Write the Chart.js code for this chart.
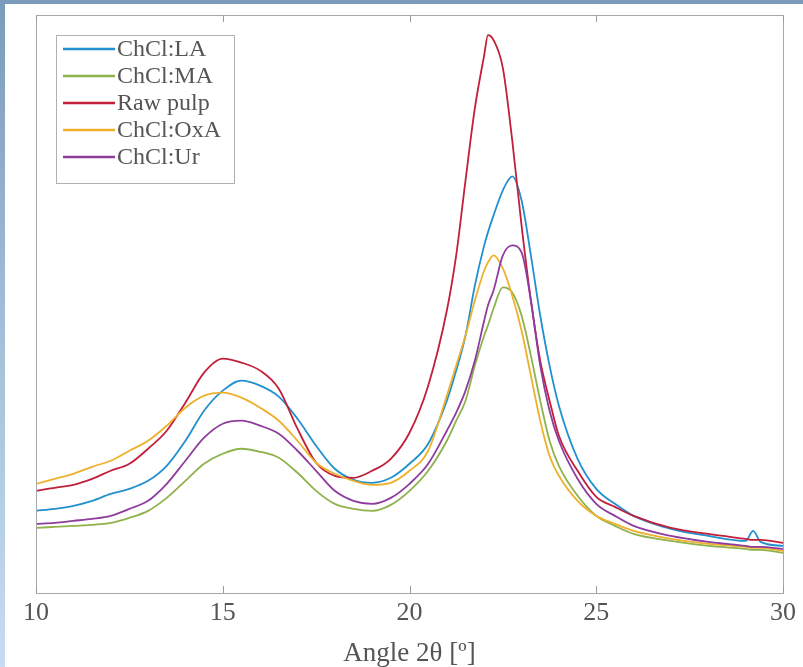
<!DOCTYPE html>
<html>
<head>
<meta charset="utf-8">
<script src="https://cdn.jsdelivr.net/npm/chart.js@4"></script>
<style>
  html, body { margin: 0; padding: 0; background: #fff; }
  #frame { position: relative; width: 803px; height: 667px; overflow: hidden; }
  #topbar { position: absolute; left: 0; top: 0; width: 803px; height: 4px; background: #7b9bbb; }
  #sidebar { position: absolute; left: 0; top: 0; width: 5px; height: 667px;
             background: linear-gradient(to bottom, #7b9bbb, #a4bfd9 50%, #c6dcf1); }
  #xrd { position: absolute; left: 0; top: 0; }
</style>
</head>
<body>
<div id="frame">
  <div id="topbar"></div>
  <div id="sidebar"></div>
  <canvas id="xrd" width="803" height="667"></canvas>
</div>
<script>
// Diffraction angle 2θ (degrees)
const angles = [10, 10.5, 11, 11.5, 12, 12.5, 13, 13.5, 14, 14.5, 15, 15.5, 16, 16.5, 17, 17.5, 18, 18.5, 19, 19.5, 20, 20.5,
  21, 21.25, 21.5, 21.75, 22, 22.1, 22.25, 22.5, 22.75, 23, 23.25, 23.5, 23.75, 24,
  24.5, 25, 25.5, 26, 27, 28,
  29, 29.2, 29.4, 30];

// Intensity (a.u.)
const chclLA = [82, 84, 87, 92, 99, 104, 112, 127, 152, 182, 202, 212, 207, 196, 174, 147, 124, 113, 110, 115, 129, 149,
  192, 222, 257, 307, 347, 360, 377, 402, 416, 392, 337, 277, 227, 187,
  134, 104, 89, 77, 64, 57,
  52, 62, 51, 47];
const chclMA = [65, 66, 67, 68, 70, 75, 82, 95, 112, 129, 139, 144, 141, 135, 120, 102, 89, 84, 82, 88, 102, 122,
  152, 172, 192, 227, 257, 267, 284, 305, 300, 277, 237, 192, 152, 127,
  97, 77, 67, 59, 52, 47,
  44, 43, 43, 40];
const rawPulp = [102, 105, 108, 114, 122, 129, 144, 162, 190, 220, 234, 230, 222, 204, 164, 130, 117, 115, 122, 134, 160, 207,
  282, 337, 412, 484, 537, 557, 552, 524, 452, 367, 292, 232, 192, 157,
  122, 96, 86, 77, 65, 59,
  54, 53, 53, 50];
const chclOxA = [109, 114, 119, 126, 132, 142, 152, 167, 185, 197, 200, 195, 185, 172, 152, 130, 119, 112, 108, 110, 122, 142,
  197, 227, 257, 292, 322, 330, 337, 324, 297, 262, 217, 172, 137, 117,
  92, 77, 69, 62, 54, 49,
  46, 45, 45, 42];
const chclUr = [69, 70, 72, 74, 77, 84, 92, 109, 132, 155, 169, 172, 167, 159, 142, 122, 102, 92, 89, 95, 109, 129,
  162, 180, 202, 232, 272, 287, 302, 337, 347, 340, 292, 227, 182, 152,
  114, 89, 77, 67, 57, 51,
  47, 46, 46, 44];

const seriesNames = ['ChCl:LA', 'ChCl:MA', 'Raw pulp', 'ChCl:OxA', 'ChCl:Ur'];
const seriesData = [chclLA, chclMA, rawPulp, chclOxA, chclUr];
const seriesColors = ['#2190cf', '#8fb24c', '#c21f3a', '#efb02c', '#8f3c9e'];

const serif = '"Liberation Serif", "DejaVu Serif", serif';
const textColor = '#555';

const datasets = seriesNames.map((name, i) => ({
  label: name,
  data: angles.map((a, j) => ({ x: a, y: seriesData[i][j] })),
  borderColor: seriesColors[i],
  borderWidth: 1.8,
  pointRadius: 0,
  fill: false,
  cubicInterpolationMode: 'monotone',
  order: seriesNames.length - i
}));

// box around the axes, inward tick marks and the legend panel
const axesBox = {
  id: 'axesBox',
  afterDraw(chart) {
    const { ctx, chartArea: a, scales } = chart;
    ctx.save();
    ctx.strokeStyle = '#a8a8a8';
    ctx.lineWidth = 1;
    ctx.strokeRect(a.left + 0.5, a.top + 0.5, a.right - a.left, a.bottom - a.top);
    ctx.strokeStyle = '#9a9a9a';
    scales.x.ticks.forEach(t => {
      const px = Math.round(scales.x.getPixelForValue(t.value)) + 0.5;
      ctx.beginPath();
      ctx.moveTo(px, a.bottom);
      ctx.lineTo(px, a.bottom - 7);
      ctx.moveTo(px, a.top);
      ctx.lineTo(px, a.top + 7);
      ctx.stroke();
    });

    // legend
    const lx = 56, ly = 35, lw = 178, lh = 148, row = 27;
    ctx.fillStyle = '#fff';
    ctx.fillRect(lx, ly, lw, lh);
    ctx.strokeStyle = '#b0b0b0';
    ctx.strokeRect(lx + 0.5, ly + 0.5, lw, lh);
    ctx.font = '24px ' + serif;
    ctx.textBaseline = 'middle';
    chart.data.datasets.forEach((ds, i) => {
      const y = ly + 14 + i * row;
      ctx.strokeStyle = ds.borderColor;
      ctx.lineWidth = 2.4;
      ctx.beginPath();
      ctx.moveTo(lx + 7, y);
      ctx.lineTo(lx + 59, y);
      ctx.stroke();
      ctx.fillStyle = textColor;
      ctx.fillText(ds.label, lx + 61, y + 1);
    });
    ctx.restore();
  }
};

new Chart(document.getElementById('xrd'), {
  type: 'line',
  data: { datasets: datasets },
  options: {
    responsive: false,
    animation: false,
    layout: { padding: { left: 36, right: 12, top: 15, bottom: 0 } },
    plugins: { legend: { display: false }, tooltip: { enabled: false } },
    scales: {
      x: {
        type: 'linear',
        min: 10,
        max: 30,
        grid: { display: false, drawTicks: false },
        border: { display: false },
        ticks: {
          stepSize: 5,
          padding: 7,
          color: textColor,
          maxRotation: 0,
          font: { family: serif, size: 26, lineHeight: 1 }
        },
        title: {
          display: true,
          text: 'Angle 2θ [º]',
          color: textColor,
          padding: { top: 7, bottom: 0 },
          font: { family: serif, size: 27, lineHeight: 1 }
        }
      },
      y: {
        display: false,
        min: 0,
        max: 577
      }
    }
  },
  plugins: [axesBox]
});
</script>
</body>
</html>
